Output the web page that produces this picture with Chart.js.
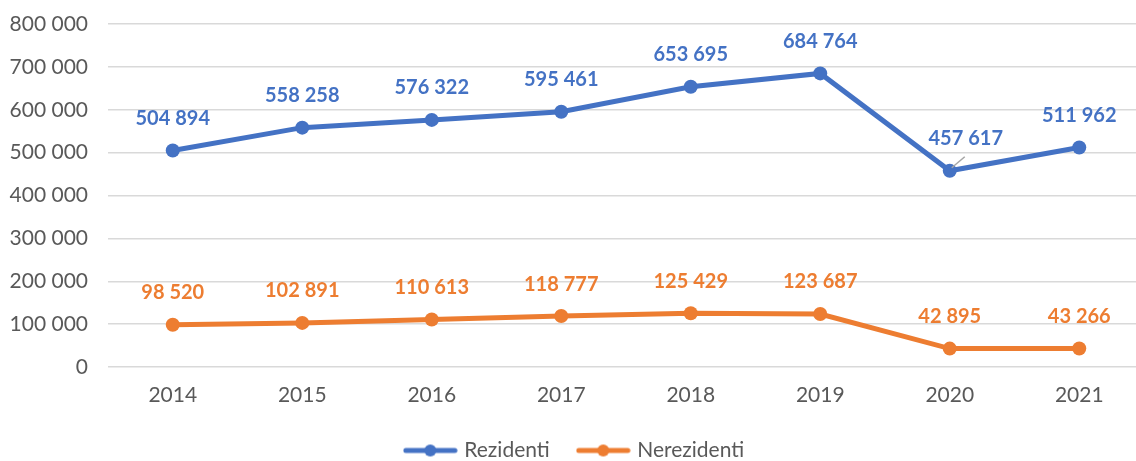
<!DOCTYPE html>
<html>
<head>
<meta charset="utf-8">
<script src="https://cdn.jsdelivr.net/npm/chart.js@4/dist/chart.umd.min.js"></script>
<style>
  html, body { margin: 0; padding: 0; background: #fff; overflow: hidden; }
  #wrap { width: 1136px; height: 461px; position: relative; overflow: hidden; }
  #c { display: block; }
</style>
</head>
<body>
<div id="wrap"><canvas id="c" width="1151" height="461"></canvas></div>
<script>
const categories = ['2014', '2015', '2016', '2017', '2018', '2019', '2020', '2021'];
const rezidenti = [504894, 558258, 576322, 595461, 653695, 684764, 457617, 511962];
const nerezidenti = [98520, 102891, 110613, 118777, 125429, 123687, 42895, 43266];
const seriesNames = ['Rezidenti', 'Nerezidenti'];

const BLUE = '#4472C4';
const ORANGE = '#ED7D31';
const FONT = 'Lato, "Open Sans", "DejaVu Sans", sans-serif';

function fmt(v) {
  return String(Math.round(v)).replace(/\B(?=(\d{3})+(?!\d))/g, ' ');
}

function legendIcon(color) {
  const c = document.createElement('canvas');
  c.width = 55; c.height = 16;
  const x = c.getContext('2d');
  x.strokeStyle = color; x.lineWidth = 5; x.lineCap = 'round';
  x.beginPath(); x.moveTo(3, 8); x.lineTo(52, 8); x.stroke();
  x.fillStyle = color;
  x.beginPath(); x.arc(27.5, 8, 6, 0, Math.PI * 2); x.fill();
  return c;
}

const labelOffsets = { '0:6': { dx: 16, dy: 0, leader: true } };

const dataLabels = {
  id: 'dataLabels',
  afterDatasetsDraw(chart) {
    const ctx = chart.ctx;
    chart.data.datasets.forEach((ds, di) => {
      const meta = chart.getDatasetMeta(di);
      meta.data.forEach((pt, i) => {
        const off = labelOffsets[di + ':' + i] || { dx: 0, dy: 0 };
        const lx = pt.x + off.dx;
        const ly = pt.y - 32 + off.dy;
        ctx.save();
        if (off.leader) {
          ctx.strokeStyle = '#A6A6A6';
          ctx.lineWidth = 1.5;
          ctx.beginPath();
          ctx.moveTo(pt.x + 2, pt.y - 3);
          ctx.lineTo(pt.x + 15, pt.y - 14);
          ctx.stroke();
        }
        ctx.font = 'bold 20px ' + FONT;
        ctx.fillStyle = ds.borderColor;
        ctx.textAlign = 'center';
        ctx.textBaseline = 'middle';
        ctx.fillText(fmt(ds.data[i]), lx, ly);
        ctx.restore();
      });
    });
  }
};

new Chart(document.getElementById('c'), {
  type: 'line',
  data: {
    labels: categories,
    datasets: [
      { label: seriesNames[0], data: rezidenti, borderColor: BLUE, backgroundColor: BLUE,
        borderWidth: 5, pointRadius: 7, pointHoverRadius: 7, pointStyle: 'circle', tension: 0,
        pointBackgroundColor: BLUE, pointBorderWidth: 0 },
      { label: seriesNames[1], data: nerezidenti, borderColor: ORANGE, backgroundColor: ORANGE,
        borderWidth: 5, pointRadius: 7, pointHoverRadius: 7, pointStyle: 'circle', tension: 0,
        pointBackgroundColor: ORANGE, pointBorderWidth: 0 }
    ]
  },
  options: {
    responsive: false,
    maintainAspectRatio: false,
    devicePixelRatio: 1,
    animation: false,
    layout: { padding: { top: 24, bottom: -10, left: 0, right: 0 } },
    plugins: {
      tooltip: { enabled: false },
      legend: {
        position: 'bottom',
        labels: {
          usePointStyle: true,
          pointStyleWidth: 47,
          padding: 30,
          color: '#595959',
          font: { family: FONT, size: 21 },
          generateLabels(chart) {
            return chart.data.datasets.map((ds, i) => ({
              text: ds.label,
              pointStyle: legendIcon(ds.borderColor),
              fillStyle: ds.borderColor,
              strokeStyle: ds.borderColor,
              lineWidth: 0,
              fontColor: '#595959',
              datasetIndex: i,
              hidden: false
            }));
          }
        }
      }
    },
    scales: {
      x: {
        offset: true,
        grid: { display: false },
        border: { display: false },
        ticks: { color: '#595959', font: { family: FONT, size: 21 }, padding: 8 },
        afterFit(scale) { scale.height = 43; }
      },
      y: {
        min: 0, max: 800000,
        grid: { color: '#D9D9D9', lineWidth: 1.5, drawTicks: false },
        border: { display: false },
        ticks: { stepSize: 100000, color: '#595959', font: { family: FONT, size: 21 }, padding: 20,
          callback: (v) => fmt(v) },
        afterFit(scale) { scale.width = 108; scale.paddingTop = 0; scale.paddingBottom = 0; }
      }
    }
  },
  plugins: [dataLabels]
});
</script>
</body>
</html>
